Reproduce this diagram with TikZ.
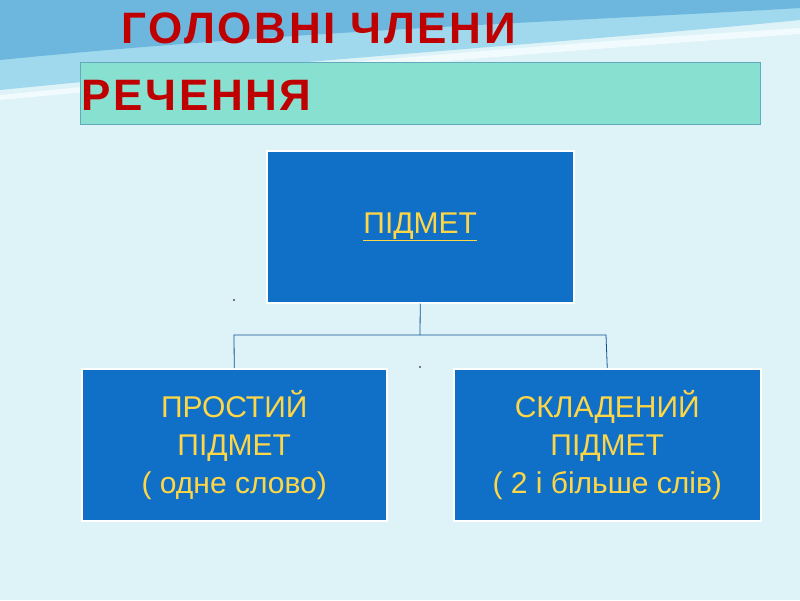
\documentclass[tikz,border=0pt]{standalone}
\usepackage{fontspec}
\setmainfont{Liberation Sans}
\definecolor{bg}{RGB}{221,243,248}
\definecolor{wave1}{RGB}{120,200,230}
\definecolor{wave2}{RGB}{60,150,210}
\definecolor{bandc}{RGB}{136,224,208}
\definecolor{bandd}{RGB}{100,170,190}
\definecolor{boxb}{RGB}{16,112,200}
\definecolor{txty}{RGB}{255,214,70}
\definecolor{titr}{RGB}{190,0,0}
\definecolor{linec}{RGB}{16,80,150}
\begin{document}
\begin{tikzpicture}[x=1pt,y=-1pt,
  bluebox/.style={draw=white,line width=1.5pt,fill=boxb,text=txty,align=center,font=\fontsize{30}{38}\selectfont},
  conn2/.style={draw=linec,line width=0.8pt}]
\fill[bg] (0,0) rectangle (800,600);
\useasboundingbox (0,0) rectangle (800,600);
\fill[wave1,opacity=0.6] (0,0) -- (800,0) -- (800,20) .. controls (600,40) and (300,60) .. (0,90) -- cycle;
\fill[wave2,opacity=0.5] (0,0) -- (800,0) -- (800,8) .. controls (600,20) and (300,30) .. (0,60) -- cycle;
\fill[white,opacity=0.6] (0,95) .. controls (300,65) and (600,40) .. (800,28) -- (800,34) .. controls (600,48) and (300,72) .. (0,100) -- cycle;
\node[draw=bandd,fill=bandc,minimum width=680pt,minimum height=62pt,anchor=north west,inner sep=0pt] (band) at (80,62) {};
\node[text=titr,font=\bfseries\fontsize{44}{48}\selectfont,anchor=west] (t1) at (118,28) {\addfontfeature{LetterSpace=6}ГОЛОВНІ ЧЛЕНИ};
\node[text=titr,font=\bfseries\fontsize{44}{48}\selectfont,anchor=west] (t2) at (78,95) {\addfontfeature{LetterSpace=6}РЕЧЕННЯ};
\node[bluebox,minimum width=307pt,minimum height=152pt,anchor=north west,inner sep=0pt] (top) at (266,150) {\underline{ПІДМЕТ}};
\node[bluebox,minimum width=305pt,minimum height=152pt,anchor=north west,inner sep=0pt] (l) at (81,368) {ПРОСТИЙ\\ПІДМЕТ\\( одне слово)};
\node[bluebox,minimum width=307pt,minimum height=152pt,anchor=north west,inner sep=0pt] (r) at (453,368) {СКЛАДЕНИЙ\\ПІДМЕТ\\( 2 і більше слів)};
\coordinate (m) at (420,335);
\draw[conn2] (top.south) -- (m);
\draw[conn2] (l.north) -- (234,335) -- (606,335) -- (r.north);
\fill[black] (234,300) circle (0.8);
\fill[black] (420,367) circle (0.8);
\end{tikzpicture}
\end{document}
